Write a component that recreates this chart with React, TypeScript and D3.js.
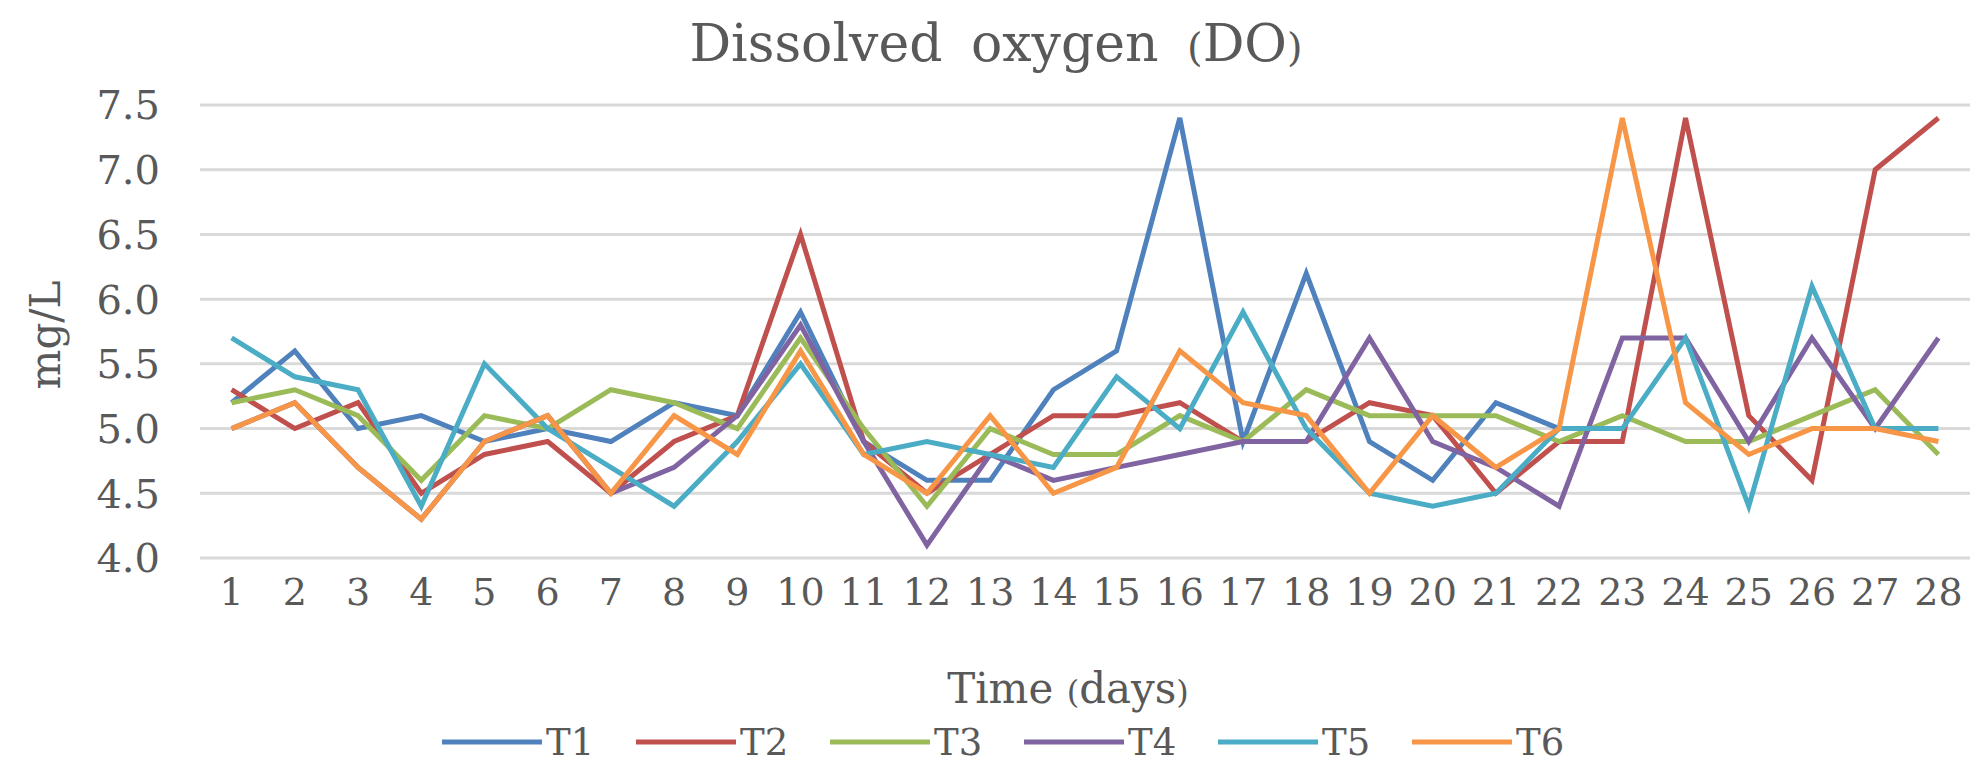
import React, { useEffect, useRef } from 'react';
import * as d3 from 'd3';

const days = [1, 2, 3, 4, 5, 6, 7, 8, 9, 10, 11, 12, 13, 14, 15, 16, 17, 18, 19, 20, 21, 22, 23, 24, 25, 26, 27, 28];

// T1 is not visible after day 22
const t1 = [5.2, 5.6, 5.0, 5.1, 4.9, 5.0, 4.9, 5.2, 5.1, 5.9, 4.9, 4.6, 4.6, 5.3, 5.6, 7.4, 4.9, 6.2, 4.9, 4.6, 5.2, 5.0, null, null, null, null, null, null];
const t2 = [5.3, 5.0, 5.2, 4.5, 4.8, 4.9, 4.5, 4.9, 5.1, 6.5, 4.9, 4.5, 4.8, 5.1, 5.1, 5.2, 4.9, 4.9, 5.2, 5.1, 4.5, 4.9, 4.9, 7.4, 5.1, 4.6, 7.0, 7.4];
const t3 = [5.2, 5.3, 5.1, 4.6, 5.1, 5.0, 5.3, 5.2, 5.0, 5.7, 5.0, 4.4, 5.0, 4.8, 4.8, 5.1, 4.9, 5.3, 5.1, 5.1, 5.1, 4.9, 5.1, 4.9, 4.9, 5.1, 5.3, 4.8];
const t4 = [5.0, 5.2, 4.7, 4.3, 4.9, 5.1, 4.5, 4.7, 5.1, 5.8, 4.9, 4.1, 4.8, 4.6, 4.7, 4.8, 4.9, 4.9, 5.7, 4.9, 4.7, 4.4, 5.7, 5.7, 4.9, 5.7, 5.0, 5.7];
const t5 = [5.7, 5.4, 5.3, 4.4, 5.5, 5.0, 4.7, 4.4, 4.9, 5.5, 4.8, 4.9, 4.8, 4.7, 5.4, 5.0, 5.9, 5.0, 4.5, 4.4, 4.5, 5.0, 5.0, 5.7, 4.4, 6.1, 5.0, 5.0];
const t6 = [5.0, 5.2, 4.7, 4.3, 4.9, 5.1, 4.5, 5.1, 4.8, 5.6, 4.8, 4.5, 5.1, 4.5, 4.7, 5.6, 5.2, 5.1, 4.5, 5.1, 4.7, 5.0, 7.4, 5.2, 4.8, 5.0, 5.0, 4.9];

const seriesNames = ['T1', 'T2', 'T3', 'T4', 'T5', 'T6'];
const seriesValues = [t1, t2, t3, t4, t5, t6];
const seriesColors = ['#4f81bd', '#c0504d', '#9bbb59', '#8064a2', '#4bacc6', '#f79646'];
const yTicks = [4.0, 4.5, 5.0, 5.5, 6.0, 6.5, 7.0, 7.5];

const W = 1982;
const H = 765;
const textColor = '#595959';
const serif = '"DejaVu Serif", serif';

const DOChart: React.FC = () => {
  const svgRef = useRef<SVGSVGElement>(null);

  useEffect(() => {
    if (!svgRef.current) return;
    const svg = d3.select(svgRef.current);
    svg.selectAll('*').remove();

    const plot = { left: 200, right: 1970, top: 105, bottom: 558 };

    const x = d3.scaleBand<number>().domain(days).range([plot.left, plot.right]);
    const y = d3.scaleLinear().domain([4, 7.5]).range([plot.bottom, plot.top]);
    const cx = (d: number) => x(d)! + x.bandwidth() / 2;

    // title
    const title = svg.append('text')
      .attr('x', 996).attr('y', 61)
      .attr('text-anchor', 'middle')
      .attr('font-family', serif).attr('font-size', 52)
      .attr('fill', textColor)
      .attr('word-spacing', 12);
    title.append('tspan').text('Dissolved oxygen ');
    title.append('tspan').attr('font-size', 40).text('(');
    title.append('tspan').text('DO');
    title.append('tspan').attr('font-size', 40).text(')');

    // gridlines
    svg.append('g')
      .selectAll('line')
      .data(yTicks)
      .join('line')
      .attr('x1', plot.left).attr('x2', plot.right)
      .attr('y1', d => y(d)).attr('y2', d => y(d))
      .attr('stroke', '#d9d9d9').attr('stroke-width', 3);

    // y tick labels
    svg.append('g')
      .selectAll('text')
      .data(yTicks)
      .join('text')
      .attr('x', 160).attr('y', d => y(d))
      .attr('dy', '0.36em')
      .attr('text-anchor', 'end')
      .attr('font-family', serif).attr('font-size', 40)
      .attr('fill', textColor)
      .text(d => d3.format('.1f')(d));

    // x tick labels
    svg.append('g')
      .selectAll('text')
      .data(days)
      .join('text')
      .attr('x', d => cx(d)).attr('y', 605)
      .attr('text-anchor', 'middle')
      .attr('font-family', serif).attr('font-size', 38)
      .attr('fill', textColor)
      .text(d => String(d));

    // axis titles
    const xt = svg.append('text')
      .attr('x', 1068).attr('y', 703)
      .attr('text-anchor', 'middle')
      .attr('font-family', serif).attr('font-size', 42)
      .attr('fill', textColor);
    xt.append('tspan').text('Time ');
    xt.append('tspan').attr('font-size', 32).text('(');
    xt.append('tspan').text('days');
    xt.append('tspan').attr('font-size', 32).text(')');

    svg.append('text')
      .attr('transform', 'translate(60,335) rotate(-90)')
      .attr('text-anchor', 'middle')
      .attr('font-family', serif).attr('font-size', 42)
      .attr('fill', textColor)
      .text('mg/L');

    // lines
    const line = d3.line<number | null>()
      .defined(v => v != null)
      .x((_, i) => cx(days[i]))
      .y(v => y(v as number));

    svg.append('g')
      .selectAll('path')
      .data(seriesValues)
      .join('path')
      .attr('d', d => line(d))
      .attr('fill', 'none')
      .attr('stroke', (_, i) => seriesColors[i])
      .attr('stroke-width', 5)
      .attr('stroke-linejoin', 'miter');

    // legend
    const legend = svg.append('g')
      .selectAll('g')
      .data(seriesNames)
      .join('g')
      .attr('transform', (_, i) => `translate(${442 + i * 194},742)`);
    legend.append('line')
      .attr('x1', 0).attr('x2', 100)
      .attr('stroke', (_, i) => seriesColors[i])
      .attr('stroke-width', 5);
    legend.append('text')
      .attr('x', 104).attr('y', 13)
      .attr('font-family', serif).attr('font-size', 37)
      .attr('fill', textColor)
      .text(d => d);
  }, []);

  return <svg ref={svgRef} width={W} height={H} style={{ display: 'block' }}></svg>;
};

const App = () => {
  return (
    <div style={{ width: W, height: H, background: '#fff' }}>
      <style>{'body{margin:0}'}</style>
      <DOChart />
    </div>
  );
};

export default App;
